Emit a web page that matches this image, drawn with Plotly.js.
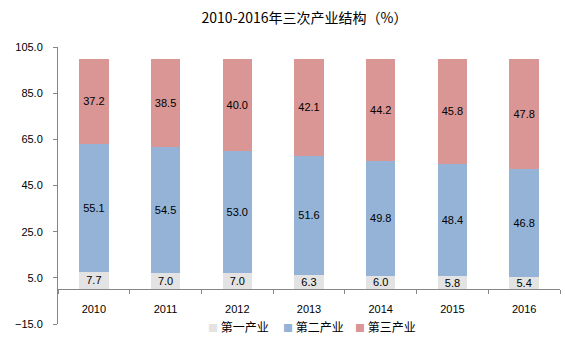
<!DOCTYPE html>
<html>
<head>
<meta charset="utf-8">
<script src="https://cdn.plot.ly/plotly-3.0.1.min.js"></script>
<style>html,body{margin:0;padding:0;background:#fff;}#chart{width:565px;height:353px;}</style>
</head>
<body>
<div id="chart"></div>
<script>
const years = ['2010','2011','2012','2013','2014','2015','2016'];
const primary = [7.7, 7.0, 7.0, 6.3, 6.0, 5.8, 5.4];
const secondary = [55.1, 54.5, 53.0, 51.6, 49.8, 48.4, 46.8];
const tertiary = [37.2, 38.5, 40.0, 42.1, 44.2, 45.8, 47.8];
const seriesNames = ['第一产业', '第二产业', '第三产业'];
const colors = ['#e3e3e3', '#95b3d7', '#d99694'];

const numFont = 'Liberation Sans, Arial, sans-serif';
const cjkFont = 'Noto Sans CJK SC, sans-serif';

function mk(vals, i) {
  return {
    type: 'bar', x: years, y: vals, name: seriesNames[i],
    marker: {color: colors[i]},
    texttemplate: '%{y:.1f}', textposition: 'inside', insidetextanchor: 'middle',
    textangle: 0, constraintext: 'none',
    textfont: {family: numFont, size: 11, color: '#000'},
    hoverinfo: 'none', showlegend: false
  };
}
const data = [mk(primary,0), mk(secondary,1), mk(tertiary,2)];

// legend entries drawn as text items (marker square + series name)
const legendX = [0.2948, 0.4442, 0.5876];
const annotations = seriesNames.map((n, i) => ({
  xref: 'paper', yref: 'paper', x: legendX[i], y: -0.0108,
  xanchor: 'left', yanchor: 'middle', showarrow: false,
  text: '<span style="color:' + colors[i] + ';font-size:10px">■</span> ' + n,
  font: {family: cjkFont, size: 12, color: '#000'}
}));

const layout = {
  width: 565, height: 353,
  margin: {l: 58, r: 5, t: 47, b: 29},
  paper_bgcolor: '#fff', plot_bgcolor: '#fff',
  barmode: 'stack', bargap: 0.59,
  showlegend: false,
  title: {text: '2010-2016年三次产业结构（%）', x: 0.539, xanchor: 'center', y: 0.95, yanchor: 'middle',
          font: {family: cjkFont, size: 14, color: '#000'}},
  xaxis: {
    type: 'category', anchor: 'free', position: 0.125,
    showline: true, linecolor: '#868686', linewidth: 1,
    ticks: 'outside', tickson: 'boundaries', ticklen: 4, tickcolor: '#868686',
    ticklabelstandoff: 9,
    tickfont: {family: numFont, size: 11, color: '#000'},
    showgrid: false, zeroline: false, fixedrange: true
  },
  yaxis: {
    range: [-15, 105], tick0: -15, dtick: 20, tickformat: '.1f',
    showline: true, linecolor: '#868686', linewidth: 1,
    ticks: 'outside', ticklen: 4, tickcolor: '#868686',
    ticklabelstandoff: 8,
    tickfont: {family: numFont, size: 11, color: '#000'},
    showgrid: false, zeroline: false
  },
  annotations: annotations
};

Plotly.newPlot('chart', data, layout, {displayModeBar: false, staticPlot: true});
</script>
</body>
</html>
